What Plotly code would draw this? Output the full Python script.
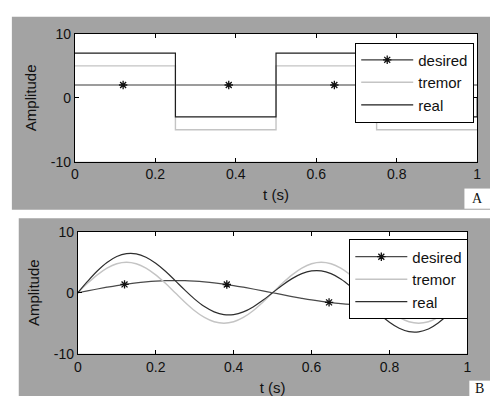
import plotly.graph_objects as go

# ---------------- data ----------------
# Panel A (square-wave tremor)
tA = [0, 0.25, 0.5, 0.75, 1.0, 1.0]
desiredA = [2, 2, 2, 2, 2, 2]
tremorA = [5, -5, 5, -5, -5, -5]
realA = [7, -3, 7, -3, -3, 0]
markA_t = [0.12, 0.3825, 0.645, 0.9075]
markA_y = [2, 2, 2, 2]

# Panel B (sinusoidal tremor)
tB = [0, 0.025, 0.05, 0.075, 0.1, 0.125, 0.15, 0.175, 0.2, 0.225, 0.25,
      0.275, 0.3, 0.325, 0.35, 0.375, 0.4, 0.425, 0.45, 0.475, 0.5,
      0.525, 0.55, 0.575, 0.6, 0.625, 0.65, 0.675, 0.7, 0.725, 0.75,
      0.775, 0.8, 0.825, 0.85, 0.875, 0.9, 0.925, 0.95, 0.975, 1.0]
desiredB = [0, 0.31, 0.62, 0.91, 1.18, 1.41, 1.62, 1.78, 1.90, 1.98, 2.0,
            1.98, 1.90, 1.78, 1.62, 1.41, 1.18, 0.91, 0.62, 0.31, 0,
            -0.31, -0.62, -0.91, -1.18, -1.41, -1.62, -1.78, -1.90, -1.98, -2.0,
            -1.98, -1.90, -1.78, -1.62, -1.41, -1.18, -0.91, -0.62, -0.31, 0]
tremorB = [0, 1.55, 2.94, 4.05, 4.76, 5.0, 4.76, 4.05, 2.94, 1.55, 0,
           -1.55, -2.94, -4.05, -4.76, -5.0, -4.76, -4.05, -2.94, -1.55, 0,
           1.55, 2.94, 4.05, 4.76, 5.0, 4.76, 4.05, 2.94, 1.55, 0,
           -1.55, -2.94, -4.05, -4.76, -5.0, -4.76, -4.05, -2.94, -1.55, 0]
realB = [0, 1.86, 3.56, 4.96, 5.94, 6.41, 6.38, 5.83, 4.84, 3.53, 2.0,
         0.43, -1.04, -2.27, -3.14, -3.59, -3.58, -3.14, -2.32, -1.24, 0,
         1.24, 2.32, 3.14, 3.58, 3.59, 3.14, 2.27, 1.04, -0.43, -2.0,
         -3.53, -4.84, -5.83, -6.38, -6.41, -5.94, -4.96, -3.56, -1.86, 0]
markB_t = [0.12, 0.3825, 0.645, 0.9075]
markB_y = [1.37, 1.35, -1.58, -1.10]

x_ticks = [0, 0.2, 0.4, 0.6, 0.8, 1]
x_tick_labels = ["0", "0.2", "0.4", "0.6", "0.8", "1"]
y_ticks = [-10, 0, 10]
y_tick_labels = ["-10", "0", "10"]
series_names = ["desired", "tremor", "real"]
panel_labels = ["A", "B"]

# ---------------- style ----------------
W, H = 494, 404
FONT = "Liberation Sans, Arial, sans-serif"
C_DES = "#3a3a3a"
C_TRE = "#c4c4c4"
C_REAL = "#1e1e1e"
GRAY = "#a3a3a3"
MARK = dict(symbol="asterisk-open", size=7, color="#111111", line=dict(width=1.3, color="#111111"))


def px_x(v):
    return v / W


def px_y(v):
    return 1 - v / H


fig = go.Figure()

# Panel A traces
fig.add_trace(go.Scatter(x=tA, y=desiredA, mode="lines", line=dict(color=C_DES, width=1.2, shape="hv"),
                         xaxis="x", yaxis="y", showlegend=False))
fig.add_trace(go.Scatter(x=tA, y=tremorA, mode="lines", line=dict(color=C_TRE, width=1.4, shape="hv"),
                         xaxis="x", yaxis="y", showlegend=False))
fig.add_trace(go.Scatter(x=tA, y=realA, mode="lines", line=dict(color=C_REAL, width=1.2, shape="hv"),
                         xaxis="x", yaxis="y", showlegend=False))
fig.add_trace(go.Scatter(x=markA_t, y=markA_y, mode="markers", marker=MARK,
                         xaxis="x", yaxis="y", showlegend=False))

# Panel B traces
fig.add_trace(go.Scatter(x=tB, y=desiredB, mode="lines", line=dict(color="#4a4a4a", width=1.2, shape="spline"),
                         xaxis="x2", yaxis="y2", showlegend=False))
fig.add_trace(go.Scatter(x=tB, y=tremorB, mode="lines", line=dict(color=C_TRE, width=1.4, shape="spline"),
                         xaxis="x2", yaxis="y2", showlegend=False))
fig.add_trace(go.Scatter(x=tB, y=realB, mode="lines", line=dict(color="#2e2e2e", width=1.2, shape="spline"),
                         xaxis="x2", yaxis="y2", showlegend=False))
fig.add_trace(go.Scatter(x=markB_t, y=markB_y, mode="markers", marker=MARK,
                         xaxis="x2", yaxis="y2", showlegend=False))

# legend entries
for leg, xa, ya, dcol, rcol in [("legend", "x", "y", C_DES, C_REAL), ("legend2", "x2", "y2", "#4a4a4a", "#2e2e2e")]:
    fig.add_trace(go.Scatter(x=[None], y=[None], mode="lines+markers", name=series_names[0],
                             line=dict(color=dcol, width=1.2), marker=MARK,
                             xaxis=xa, yaxis=ya, legend=leg))
    fig.add_trace(go.Scatter(x=[None], y=[None], mode="lines", name=series_names[1],
                             line=dict(color=C_TRE, width=1.4), xaxis=xa, yaxis=ya, legend=leg))
    fig.add_trace(go.Scatter(x=[None], y=[None], mode="lines", name=series_names[2],
                             line=dict(color=rcol, width=1.2), xaxis=xa, yaxis=ya, legend=leg))

# plot area positions (pixels)
A_box = (72, 27, 481, 160)
B_box = (75, 233, 471, 360)

common_x = dict(range=[0, 1], tickvals=x_ticks, ticktext=x_tick_labels, ticks="inside", ticklen=4,
                tickcolor="black", showline=True, linecolor="black", linewidth=1, mirror="ticks",
                showgrid=False, zeroline=False, tickfont=dict(size=14, color="#111", family=FONT),
                title=dict(text="t (s)", font=dict(size=15, color="#111", family=FONT), standoff=8))
common_y = dict(range=[-10, 10], tickvals=y_ticks, ticktext=y_tick_labels, ticks="inside", ticklen=4,
                tickcolor="black", showline=True, linecolor="black", linewidth=1, mirror="ticks",
                showgrid=False, zeroline=False, tickfont=dict(size=14, color="#111", family=FONT),
                title=dict(text="Amplitude", font=dict(size=15, color="#111", family=FONT), standoff=10))

layout_axes = {}
layout_axes["xaxis"] = dict(common_x, domain=[px_x(A_box[0]), px_x(A_box[2])], anchor="y")
layout_axes["yaxis"] = dict(common_y, domain=[px_y(A_box[3]), px_y(A_box[1])], anchor="x")
layout_axes["xaxis2"] = dict(common_x, domain=[px_x(B_box[0]), px_x(B_box[2])], anchor="y2")
layout_axes["yaxis2"] = dict(common_y, domain=[px_y(B_box[3]), px_y(B_box[1])], anchor="x2")

shapes = []


def rect(x0, y0, x1, y1, color):
    shapes.append(dict(type="rect", xref="paper", yref="paper", x0=px_x(x0), x1=px_x(x1),
                       y0=px_y(y1), y1=px_y(y0), fillcolor=color, line=dict(width=0), layer="below"))


rect(8, 9, 494, 210, GRAY)
rect(15, 219, 494, 404, GRAY)
rect(*A_box, "white")
rect(*B_box, "white")
rect(468, 188, 494, 209, "white")
rect(473, 388, 494, 404, "white")

annotations = [
    dict(text=panel_labels[0], xref="paper", yref="paper", x=px_x(481), y=px_y(198.5), xanchor="center",
         yanchor="middle", showarrow=False, font=dict(size=14, family="Liberation Serif, Times New Roman, serif", color="#111")),
    dict(text=panel_labels[1], xref="paper", yref="paper", x=px_x(483.5), y=px_y(396), xanchor="center",
         yanchor="middle", showarrow=False, font=dict(size=14, family="Liberation Serif, Times New Roman, serif", color="#111")),
]

legend_common = dict(bgcolor="white", bordercolor="black", borderwidth=1,
                     font=dict(size=15, color="#111", family=FONT), xanchor="left", yanchor="top",
                     tracegroupgap=0, itemwidth=52)

fig.update_layout(
    width=W, height=H, margin=dict(l=0, r=0, t=0, b=0),
    paper_bgcolor="white", plot_bgcolor="white",
    font=dict(family=FONT),
    shapes=shapes, annotations=annotations,
    legend=dict(legend_common, x=px_x(357), y=px_y(36)),
    legend2=dict(legend_common, x=px_x(351), y=px_y(241)),
    **layout_axes,
)

fig.write_html("out.html")
